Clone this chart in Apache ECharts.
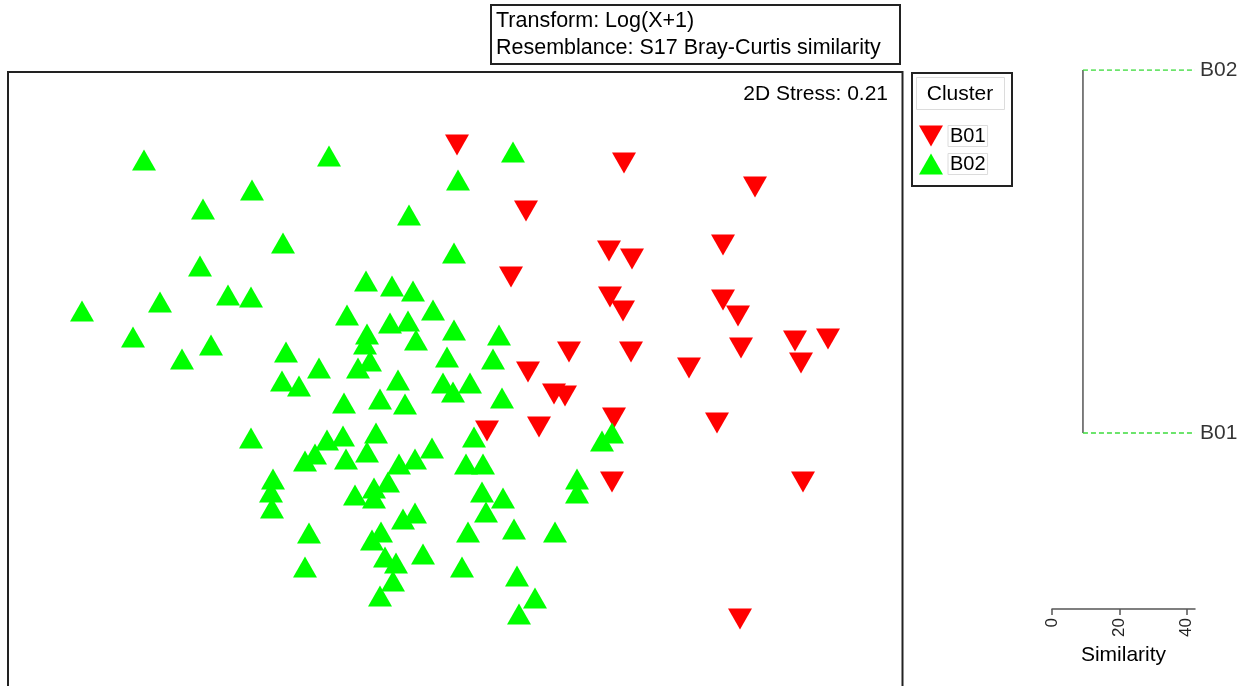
<!DOCTYPE html>
<html>
<head>
<meta charset="utf-8">
<script src="https://cdn.jsdelivr.net/npm/echarts@6/dist/echarts.min.js"></script>
<style>
  html, body { margin: 0; padding: 0; background: #fff; }
  #chart { width: 1249px; height: 686px; }
</style>
</head>
<body>
<div id="chart"></div>
<script>
// nMDS ordination of samples, coloured by cluster membership
const titleLines = ['Transform: Log(X+1)', 'Resemblance: S17 Bray-Curtis similarity'];
const stressText = '2D Stress: 0.21';
const clusterNames = ['B01', 'B02'];

// ordination scores [MDS1, MDS2] for cluster B01
const b01 = [
  [457,145],[624,163],[755,187],[526,211],[723,245],[609,251],[632,259],[511,277],
  [610,297],[723,300],[623,311],[738,316],[795,341],[828,339],[741,348],[569,352],
  [631,352],[801,363],[689,368],[528,372],[554,394],[565,396],[614,418],[717,423],
  [539,427],[487,431],[612,482],[803,482],[740,619]
];

// ordination scores [MDS1, MDS2] for cluster B02
const b02 = [
  [144,160],[329,156],[252,190],[203,209],[409,215],[283,243],[200,266],[366,281],
  [392,286],[413,291],[228,295],[251,297],[160,302],[82,311],[433,310],[347,315],
  [390,323],[408,321],[367,334],[133,337],[416,340],[211,345],[365,344],[286,352],
  [182,359],[370,361],[319,368],[358,368],
  [282,381],[299,386],[398,380],[443,383],[344,403],[380,399],[405,404],[251,438],
  [376,433],[343,436],[327,440],[315,454],[305,461],[346,459],[367,452],[432,448],
  [399,464],[415,459],[273,479],[271,492],[272,508],[388,482],[374,488],[374,498],
  [355,495],[415,513],[403,519],[309,533],[381,532],[372,540],[385,557],[396,563],
  [423,554],[305,567],[393,581],[380,596],
  [453,392],[470,383],[502,398],[474,437],[466,464],[483,464],[482,492],[503,498],
  [486,512],[468,532],[514,529],[555,532],[462,567],[517,576],[535,598],[519,614],
  [602,441],[612,433],[577,479],[577,493],
  [513,152],[458,180],[454,253],[454,330],[499,335],[447,357],[493,359]
];

// dendrogram of the two clusters (similarity %)
const joinSimilarity = 9.2;
const leafSimilarity = 42.5;
const similarityTicks = [0, 20, 40];

const FONT = '"Liberation Sans", Arial, sans-serif';
const RED = '#ff0000';
const GREEN = '#00ff00';
const DOWN = 'path://M0,0L24,0L12,21Z';
const UP = 'path://M12,0L24,21L0,21Z';

const chart = echarts.init(document.getElementById('chart'), null, { renderer: 'canvas' });

chart.setOption({
  backgroundColor: '#fff',
  animation: false,
  textStyle: { fontFamily: FONT },
  title: {
    text: titleLines.join('\n'),
    left: 491, top: 5,
    padding: [3, 20, 3, 5],
    borderColor: '#222', borderWidth: 2,
    textStyle: { fontFamily: FONT, fontSize: 21.5, fontWeight: 'normal', color: '#000', lineHeight: 26.5 }
  },
  legend: {
    orient: 'vertical',
    left: 914, top: 120,
    itemWidth: 24, itemHeight: 21, itemGap: 6,
    data: [
      { name: clusterNames[0], icon: DOWN },
      { name: clusterNames[1], icon: UP }
    ],
    textStyle: {
      fontFamily: FONT, fontSize: 20, color: '#000',
      borderColor: '#dcdcdc', borderWidth: 1, padding: [1, 2, 0, 2]
    },
    selectedMode: false
  },
  grid: [
    // ordination panel; its frame runs past the bottom of the page
    { left: 8, top: 72, width: 895, height: 614 },
    // dendrogram panel, with room below the leaves for the similarity scale
    { left: 1052, top: 70, width: 143, height: 539 }
  ],
  xAxis: [
    { gridIndex: 0, type: 'value', min: 8, max: 903, show: false },
    {
      gridIndex: 1, type: 'value', min: 0, max: leafSimilarity, position: 'bottom',
      name: 'Similarity', nameLocation: 'middle', nameGap: 36,
      nameTextStyle: { fontFamily: FONT, fontSize: 21, color: '#000' },
      splitLine: { show: false },
      axisLine: { show: true, onZero: false, lineStyle: { color: '#555', width: 1.5 } },
      axisTick: { show: true, length: 6, lineStyle: { color: '#555', width: 1.5 }, customValues: similarityTicks },
      axisLabel: { rotate: 90, fontSize: 17, color: '#222', margin: 9, customValues: similarityTicks }
    }
  ],
  yAxis: [
    { gridIndex: 0, type: 'value', min: 72, max: 686, inverse: true, show: false },
    { gridIndex: 1, type: 'value', min: -0.485, max: 1, show: false }
  ],
  graphic: [
    {
      type: 'rect', shape: { x: 8, y: 72, width: 894.5, height: 700 },
      style: { fill: 'none', stroke: '#222', lineWidth: 2 }
    },
    {
      type: 'text', right: 1249 - 888, top: 84,
      style: { text: stressText, fontFamily: FONT, fontSize: 21, fill: '#000' }
    },
    {
      type: 'rect', shape: { x: 912, y: 73, width: 100, height: 113 },
      style: { fill: 'none', stroke: '#222', lineWidth: 2 }
    },
    {
      type: 'rect', shape: { x: 916.5, y: 77.5, width: 88, height: 32 },
      style: { fill: 'none', stroke: '#dcdcdc', lineWidth: 1 }
    },
    {
      type: 'text', x: 960, y: 94,
      style: { text: 'Cluster', fontFamily: FONT, fontSize: 21, fill: '#000', align: 'center', verticalAlign: 'middle' }
    }
  ],
  series: [
    {
      name: clusterNames[0], type: 'scatter', xAxisIndex: 0, yAxisIndex: 0,
      symbol: DOWN, symbolSize: [24, 21], symbolKeepAspect: false,
      itemStyle: { color: RED, opacity: 1 },
      data: b01
    },
    {
      name: clusterNames[1], type: 'scatter', xAxisIndex: 0, yAxisIndex: 0,
      symbol: UP, symbolSize: [24, 21], symbolKeepAspect: false,
      itemStyle: { color: GREEN, opacity: 1 },
      data: b02
    },
    // dendrogram branches
    {
      type: 'line', xAxisIndex: 1, yAxisIndex: 1, symbol: 'none', silent: true,
      lineStyle: { color: '#555', width: 1.5 },
      data: [[joinSimilarity, 1], [joinSimilarity, 0]]
    },
    {
      type: 'line', xAxisIndex: 1, yAxisIndex: 1, symbol: 'none', silent: true,
      lineStyle: { color: '#3cdc3c', width: 1.4, type: [5, 3] },
      data: [[joinSimilarity, 1], [leafSimilarity, 1]]
    },
    {
      type: 'line', xAxisIndex: 1, yAxisIndex: 1, symbol: 'none', silent: true,
      lineStyle: { color: '#3cdc3c', width: 1.4, type: [5, 3] },
      data: [[joinSimilarity, 0], [leafSimilarity, 0]]
    },
    // leaf labels
    {
      type: 'scatter', xAxisIndex: 1, yAxisIndex: 1, symbolSize: 0, silent: true,
      label: {
        show: true, position: 'right', distance: 5,
        formatter: p => p.data.name,
        fontFamily: FONT, fontSize: 21, color: '#000'
      },
      data: [
        { name: clusterNames[1], value: [leafSimilarity, 1] },
        { name: clusterNames[0], value: [leafSimilarity, 0] }
      ]
    }
  ]
});
</script>
</body>
</html>
